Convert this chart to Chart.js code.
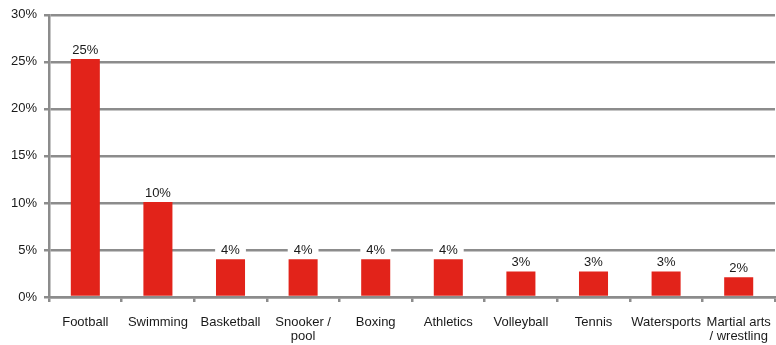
<!DOCTYPE html>
<html>
<head>
<meta charset="utf-8">
<script src="https://cdn.jsdelivr.net/npm/chart.js@4"></script>
<style>
  html, body { margin: 0; padding: 0; background: #fff; }
  #wrap { width: 776px; height: 345px; position: relative; }
</style>
</head>
<body>
<div id="wrap"><canvas id="sportChart"></canvas></div>
<script>
// Data
const categories = ['Football', 'Swimming', 'Basketball', ['Snooker /', 'pool'], 'Boxing', 'Athletics',
                    'Volleyball', 'Tennis', 'Watersports', ['Martial arts', '/ wrestling']];
const shares = [25.3, 10.1, 4.0, 4.0, 4.0, 4.0, 2.7, 2.7, 2.7, 2.1];
const shareLabels = ['25%', '10%', '4%', '4%', '4%', '4%', '3%', '3%', '3%', '2%'];
const yTicks = [0, 5, 10, 15, 20, 25, 30];

const gridGrey = '#8c8c8c';
const textFont = '"Liberation Sans", Arial, sans-serif';

// value labels above bars, on a white box so the grid line breaks behind them
const barLabels = {
    id: 'barLabels',
    afterDatasetsDraw(chart) {
        const ctx = chart.ctx;
        const meta = chart.getDatasetMeta(0);
        ctx.save();
        ctx.font = '13px ' + textFont;
        ctx.textAlign = 'center';
        ctx.textBaseline = 'middle';
        meta.data.forEach((bar, i) => {
            const txt = shareLabels[i];
            const w = ctx.measureText(txt).width + 12;
            const cy = bar.y - 9;
            ctx.fillStyle = '#fff';
            ctx.fillRect(bar.x - w / 2, cy - 7, w, 14);
            ctx.fillStyle = '#1a1a1a';
            ctx.fillText(txt, bar.x, cy);
        });
        ctx.restore();
    }
};

new Chart(document.getElementById('sportChart').getContext('2d'), {
    type: 'bar',
    data: {
        labels: categories,
        datasets: [{
            data: shares,
            backgroundColor: '#e2231a',
            barPercentage: 0.4,
            categoryPercentage: 1.0
        }]
    },
    options: {
        responsive: true,
        maintainAspectRatio: false,
        animation: false,
        layout: { padding: { top: 8, right: 1, left: 4, bottom: 0 } },
        plugins: {
            legend: { display: false },
            tooltip: { enabled: false }
        },
        scales: {
            y: {
                min: 0,
                max: 30,
                afterBuildTicks: axis => { axis.ticks = yTicks.map(v => ({ value: v })); },
                ticks: {
                    callback: v => v + '%',
                    color: '#1a1a1a',
                    font: { family: textFont, size: 13 },
                    padding: 7
                },
                grid: { color: gridGrey, lineWidth: 2.5, tickLength: 5 },
                border: { color: gridGrey, width: 2.5 }
            },
            x: {
                afterFit: axis => {
                    axis.height = 48;
                    axis.paddingLeft = 0;
                    axis.paddingRight = 0;
                },
                ticks: {
                    color: '#1a1a1a',
                    font: { family: textFont, size: 13, lineHeight: 1.1 },
                    padding: 13,
                    maxRotation: 0,
                    autoSkip: false
                },
                grid: { offset: true, drawOnChartArea: false, color: gridGrey, lineWidth: 2.5, tickLength: 5 },
                border: { color: gridGrey, width: 2.5 }
            }
        }
    },
    plugins: [barLabels]
});
</script>
</body>
</html>
